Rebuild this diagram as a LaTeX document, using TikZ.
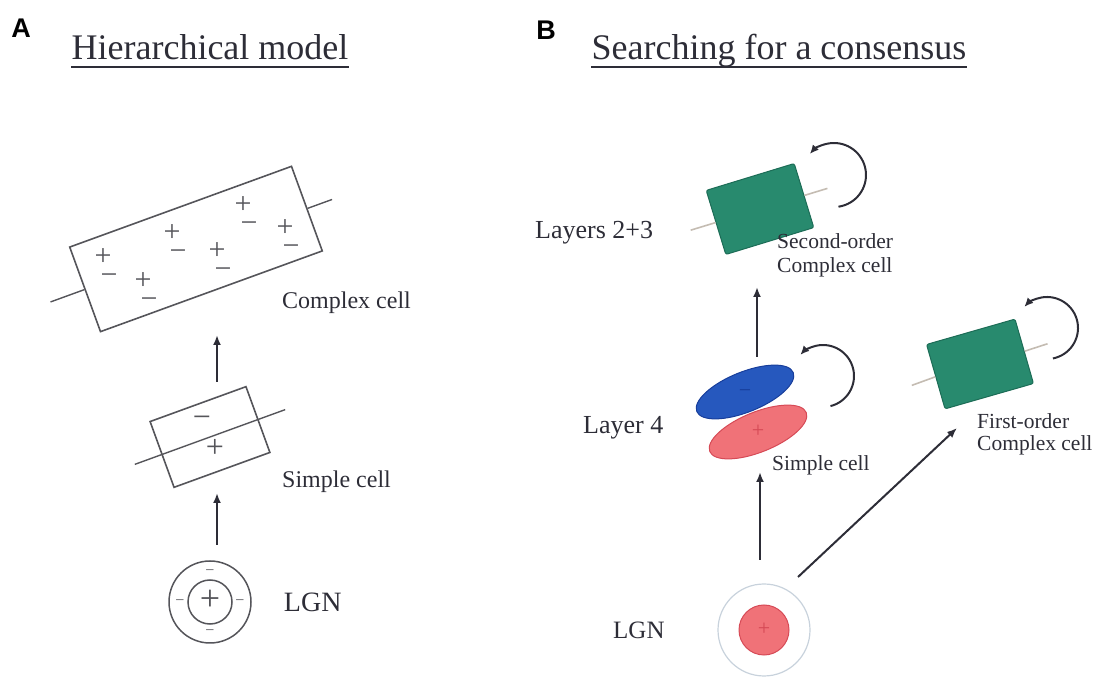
\documentclass[tikz,border=0pt]{standalone}
\usepackage{fontspec}
\setmainfont{Liberation Serif}
\newfontfamily\panelfont{Liberation Sans}
\usepackage{xcolor}
\usetikzlibrary{arrows.meta,positioning,shapes.geometric}
\definecolor{inkgray}{RGB}{45,45,55}
\definecolor{linegray}{RGB}{85,85,90}
\definecolor{axistan}{RGB}{196,188,178}
\definecolor{cellgreen}{RGB}{40,138,110}
\definecolor{cellgreenD}{RGB}{28,108,86}
\definecolor{cellblue}{RGB}{38,88,190}
\definecolor{cellblueD}{RGB}{24,62,155}
\definecolor{cellred}{RGB}{240,114,120}
\definecolor{cellredD}{RGB}{214,74,86}
\definecolor{lgnring}{RGB}{200,210,220}

\begin{document}
\begin{tikzpicture}[
  x=1pt, y=1pt,
  node distance=32pt,
  panel/.style={font=\panelfont\bfseries\fontsize{27}{27}\selectfont, inner sep=0pt},
  title/.style={font=\fontsize{36}{40}\selectfont, inner sep=0pt, anchor=base, text=inkgray},
  lbl/.style={font=\fontsize{24}{26}\selectfont, inner sep=0pt, anchor=west, text=inkgray, align=left},
  sign/.style={font=\fontsize{#1}{#1}\selectfont, inner sep=0pt, text=linegray,
    text height=#1*0.5pt, text depth=0pt},
  boxA/.style={rectangle, draw=linegray, line width=1.6pt, rotate=20},
  greenbox/.style={rectangle, rounded corners=2pt, fill=cellgreen, draw=cellgreenD,
    line width=1pt, minimum width=92pt, minimum height=67pt},
  oval/.style={ellipse, line width=1pt, minimum width=104pt, minimum height=40pt, rotate=22},
  axisA/.style={draw=linegray, line width=1.4pt},
  axisB/.style={draw=axistan, line width=1.6pt},
  arrow/.style={-{Latex[length=10pt,width=8pt]}, line width=2pt, draw=inkgray},
  turn/.style={-{Latex[length=9pt,width=8pt]}, line width=2pt, draw=inkgray}
]
\useasboundingbox (0,0) rectangle (1098,680);

% A: hierarchical model
\node[panel] (labA) at (21,652) {A};
\node[title] (titleA) at (210,620) {Hierarchical model};
\draw[line width=1.2pt, draw=inkgray] ([yshift=-7pt]titleA.base west) -- ([yshift=-7pt]titleA.base east);

\node[boxA, minimum width=236pt, minimum height=90pt] (complexA) at (196,431) {};
\draw[axisA] (complexA.west) -- ++(200:36);
\draw[axisA] (complexA.east) -- ++(20:26);
\foreach \px/\py [count=\k] in {103/422, 143/398, 172/446, 217/428, 243/474, 285/451} {
  \node[sign=30] (plusA\k) at (\px,\py) {+};
  \node[sign=30] (minusA\k) at (\px+6,\py-19) {−};
}
\node[lbl] (complexAlbl) at (282,377) {Complex cell};

\node[boxA, minimum width=102pt, minimum height=70pt] (simpleA) at (210,243) {};
\draw[axisA] (simpleA.center) ++(200:80) -- ++(20:160);
\node[sign=32] (simpleAminus) at (202,260) {−};
\node[sign=32] (simpleAplus) at (215,230) {+};
\node[lbl] (simpleAlbl) at (282,198) {Simple cell};

\node[circle, draw=linegray, line width=1.5pt, minimum size=82pt, inner sep=0pt] (lgnA) at (210,78) {};
\node[circle, draw=linegray, line width=1.5pt, minimum size=44pt, inner sep=0pt] (lgnAin) at (lgnA) {};
\node[sign=36] (lgnAplus) at (lgnA) {+};
\foreach \a [count=\k] in {90,180,270,0}
  \node[sign=16] (lgnAminus\k) at ([shift={(\a:30)}]lgnA.center) {−};
\node[lbl, font=\fontsize{28}{30}\selectfont, right=of lgnA] (lgnAlbl) {LGN};

\draw[arrow] ([shift={(7,57)}]lgnA.center) -- ([shift={(7,-56)}]simpleA.center);
\draw[arrow] ([shift={(7,55)}]simpleA.center) -- ([shift={(21,-86)}]complexA.center);

% B: searching for a consensus
\node[panel] (labB) at (546,650) {B};
\node[title] (titleB) at (779,620) {Searching for a consensus};
\draw[line width=1.2pt, draw=inkgray] ([yshift=-7pt]titleB.base west) -- ([yshift=-7pt]titleB.base east);

\node[greenbox, rotate=17] (layA) at (760,471) {};
\draw[axisB] (layA.west) -- ++(197:26);
\draw[axisB] (layA.east) -- ++(17:24);
\draw[turn] ([shift={(74,34)}]layA.center) ++(-82:32) arc[start angle=-82, end angle=139, radius=32];
\node[lbl, font=\fontsize{26}{28}\selectfont] (layAlbl) at (535,447) {Layers 2+3};
\node[lbl, font=\fontsize{21.5}{24}\selectfont] (layAcap) at (777,425) {Second-order\\Complex cell};

\node[oval, fill=cellblue, draw=cellblueD] (simpleBtop) at (745,288) {};
\node[oval, fill=cellred, draw=cellredD] (simpleBbot) at (758,248) {};
\node[sign=22, text=cellblueD] (simpleBminus) at (simpleBtop) {−};
\node[sign=22, text=cellredD] (simpleBplus) at (simpleBbot) {+};
\draw[turn] ([shift={(78,16)}]simpleBtop.center) ++(-76:31) arc[start angle=-76, end angle=137, radius=31];
\node[lbl, font=\fontsize{26}{28}\selectfont] (layer4lbl) at (583,252) {Layer 4};
\node[lbl, font=\fontsize{21.5}{24}\selectfont] (simpleBlbl) at (772,215) {Simple cell};

\node[greenbox, rotate=16] (firstC) at (980,316) {};
\draw[axisB] (firstC.west) -- ++(200:25);
\draw[axisB] (firstC.east) -- ++(18:24);
\draw[turn] ([shift={(67,36)}]firstC.center) ++(-79:31) arc[start angle=-79, end angle=137, radius=31];
\node[lbl, font=\fontsize{21.5}{22}\selectfont] (firstClbl) at (977,246) {First-order\\Complex cell};

\node[circle, draw=lgnring, line width=1.2pt, minimum size=92pt, inner sep=0pt] (lgnB) at (764,50) {};
\node[circle, fill=cellred, draw=cellredD, line width=1pt, minimum size=50pt, inner sep=0pt] (lgnBin) at (lgnB) {};
\node[sign=22, text=cellredD] (lgnBplus) at (lgnB) {+};
\node[lbl, font=\fontsize{25}{27}\selectfont] (lgnBlbl) at (613,50) {LGN};

\draw[arrow] ([shift={(-4,70)}]lgnB.center) -- ([shift={(2,-40)}]simpleBbot.center);
\draw[arrow] ([shift={(12,35)}]simpleBtop.center) -- ([shift={(-3,-78)}]layA.center);
\draw[arrow] ([shift={(34,53)}]lgnB.center) -- ([shift={(-23,-64)}]firstC.center);
\end{tikzpicture}
\end{document}
